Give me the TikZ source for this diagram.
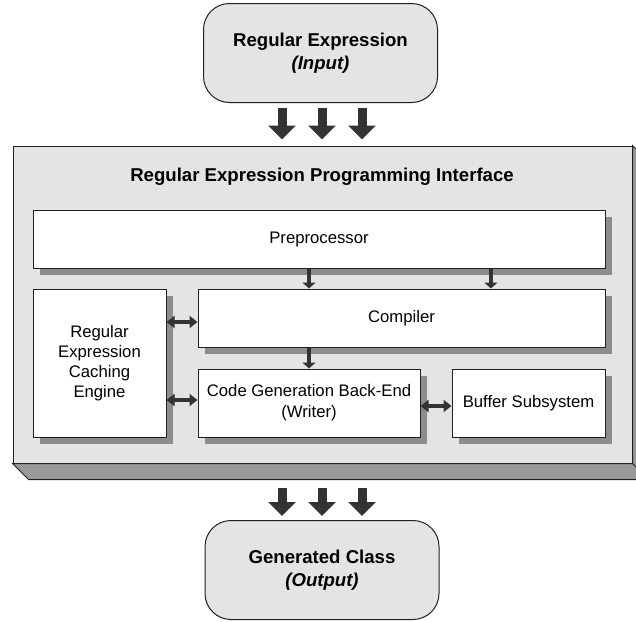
\documentclass[tikz,border=0pt]{standalone}
\usepackage{fontspec}
\setmainfont{Liberation Sans}
\usetikzlibrary{arrows.meta,shadows,calc}
\definecolor{facegray}{HTML}{E4E4E4}
\definecolor{shgray}{HTML}{8C8C8C}
\definecolor{bandgray}{HTML}{999999}
\definecolor{ink}{HTML}{202020}
\definecolor{arrowink}{HTML}{333333}
\begin{document}
\begin{tikzpicture}[x=1pt,y=-1pt,
  pill/.style={draw=ink, line width=1pt, fill=facegray, rounded corners=26pt,
    minimum width=234pt, minimum height=99pt, align=center, inner sep=0pt,
    font=\fontsize{18.6}{23}\selectfont\bfseries},
  part/.style={draw=ink, line width=1pt, fill=white, align=center, inner sep=0pt,
    drop shadow={shadow xshift=7pt, shadow yshift=-7pt, fill=shgray, opacity=1},
    font=\fontsize{16.7}{20}\selectfont},
  sarrow/.style={draw=arrowink, line width=3.5pt, -{Triangle[width=13pt,length=6pt]}},
  darrow/.style={draw=arrowink, line width=3.5pt,
    {Triangle[width=12pt,length=8pt]}-{Triangle[width=12pt,length=8pt]}},
  flow/.style={draw=arrowink, line width=9pt, -{Triangle[width=27pt,length=14pt]}}]
\useasboundingbox (0,0) rectangle (636,621);
\clip (0,0) rectangle (636,621);

% input and output terminals
\node[pill] (inpill) at (320.5,53) {Regular Expression\\\textit{(Input)}};
\node[pill] (outpill) at (322,570) {Generated Class\\\textit{(Output)}};

% the interface block with its extruded edge
\node[draw=ink, line width=1pt, fill=facegray, minimum width=619pt,
  minimum height=317pt, inner sep=0pt] (api) at (322.5,304.5) {};
\draw[draw=ink, line width=1pt, fill=bandgray]
  (api.south west) -- ++(16,16) -- ($(api.south east)+(16,16)$)
  -- ($(api.north east)+(16,16)$) -- (api.north east) -- (api.south east) -- cycle;
\draw[draw=ink, line width=1pt] (api.south east) -- ++(16,16);
\node[font=\fontsize{18.6}{23}\selectfont\bfseries] (apititle) at (322,177)
  {Regular Expression Programming Interface};

% components
\node[part, minimum width=572pt, minimum height=58pt] (pre) at (319,239) {Preprocessor};
\node[part, minimum width=407pt, minimum height=58pt] (comp) at (401.5,318) {Compiler};
\node[part, minimum width=133pt, minimum height=148pt] (cache) at (99.5,363)
  {Regular\\Expression\\Caching\\Engine};
\node[part, minimum width=222pt, minimum height=68pt,
  font=\fontsize{16.7}{21}\selectfont] (gen) at (309,403)
  {Code Generation Back-End\\(Writer)};
\node[part, minimum width=153pt, minimum height=68pt] (buf) at (528.5,403) {Buffer Subsystem};

% data flow between components
\coordinate (preA) at (pre.south -| gen.north);
\coordinate (preB) at ($(pre.south west)!0.8!(pre.south east)$);
\draw[sarrow] (preA) -- (preA |- comp.north);
\draw[sarrow] (preB) -- (preB |- comp.north);
\draw[sarrow] (comp.south -| gen.north) -- (gen.north);
\coordinate (cc) at ([yshift=-4pt]comp.west);
\draw[darrow] (cache.east |- cc) -- (cc);
\coordinate (cg) at ([yshift=3pt]gen.west);
\draw[darrow] (cache.east |- cg) -- (cg);
\coordinate (gb) at ([yshift=-3pt]buf.west);
\draw[darrow] (gen.east |- gb) -- (gb);

% block arrows into and out of the interface
\foreach \dx in {-40,0,40} {
  \draw[flow] ($(inpill.south)+(\dx+1.5,5)$) -- ($(api.north)+(\dx-0.5,-6)$);
  \draw[flow] ($(api.south)+(\dx-0.5,24)$) -- ($(outpill.north)+(\dx,-4)$);
}
\end{tikzpicture}
\end{document}
